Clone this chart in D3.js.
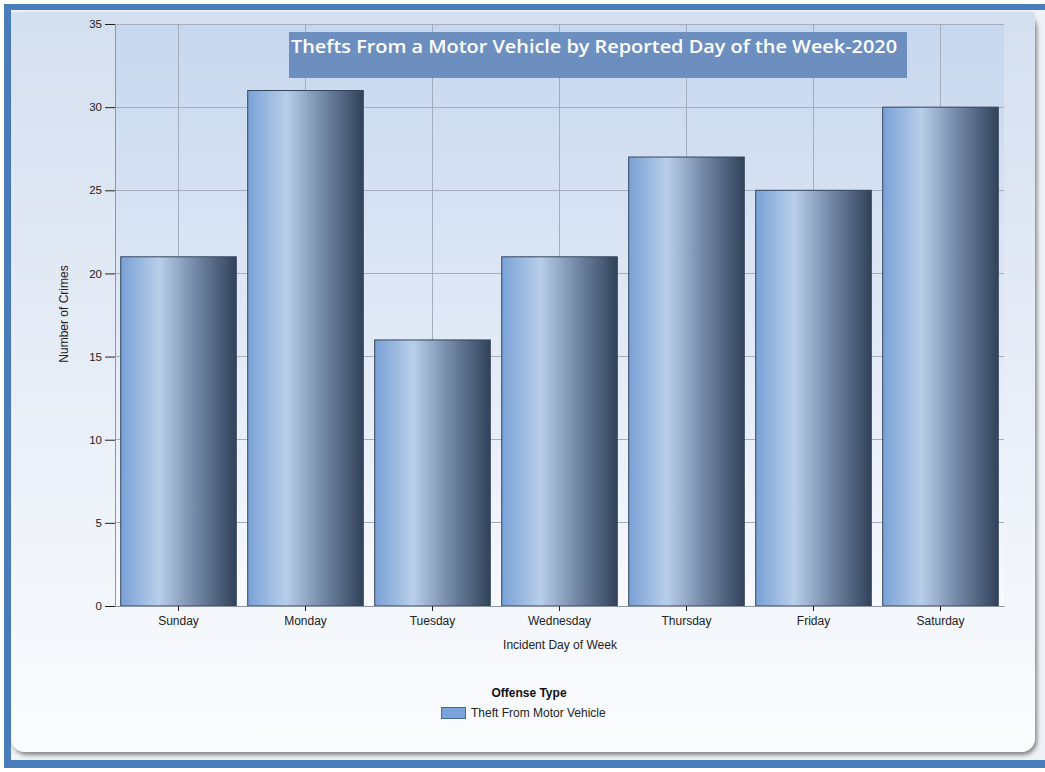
<!DOCTYPE html>
<html>
<head>
<meta charset="utf-8">
<script src="https://cdn.jsdelivr.net/npm/d3@7"></script>
<style>
  html, body { margin: 0; padding: 0; background: #fff; }
  svg { display: block; }
  text { font-family: "Liberation Sans", Arial, sans-serif; }
</style>
</head>
<body>
<svg id="chart" width="1045" height="772"></svg>
<script>
var days = ['Sunday', 'Monday', 'Tuesday', 'Wednesday', 'Thursday', 'Friday', 'Saturday'];
var crimes = [21, 31, 16, 21, 27, 25, 30];
var yTicks = [0, 5, 10, 15, 20, 25, 30, 35];
var seriesName = 'Theft From Motor Vehicle';

var svg = d3.select('#chart');
var defs = svg.append('defs');

var panelGrad = defs.append('linearGradient')
  .attr('id', 'panelGrad').attr('x1', 0).attr('y1', 0).attr('x2', 0).attr('y2', 1);
panelGrad.append('stop').attr('offset', '0%').attr('stop-color', '#d4dff0');
panelGrad.append('stop').attr('offset', '100%').attr('stop-color', '#fbfcfe');

var plotGrad = defs.append('linearGradient')
  .attr('id', 'plotGrad').attr('x1', 0).attr('y1', 0).attr('x2', 0).attr('y2', 1);
plotGrad.append('stop').attr('offset', '0%').attr('stop-color', '#c7d7ee');
plotGrad.append('stop').attr('offset', '100%').attr('stop-color', '#f7f9fd');

var barGrad = defs.append('linearGradient')
  .attr('id', 'barGrad').attr('x1', 0).attr('y1', 0).attr('x2', 1).attr('y2', 0);
barGrad.append('stop').attr('offset', '0%').attr('stop-color', '#79a1d6');
barGrad.append('stop').attr('offset', '33%').attr('stop-color', '#b8cee9');
barGrad.append('stop').attr('offset', '65%').attr('stop-color', '#7388a6');
barGrad.append('stop').attr('offset', '100%').attr('stop-color', '#31425a');

var shadow = defs.append('filter').attr('id', 'shadow')
  .attr('x', '-5%').attr('y', '-5%').attr('width', '110%').attr('height', '110%');
shadow.append('feGaussianBlur').attr('in', 'SourceAlpha').attr('stdDeviation', 2);
shadow.append('feOffset').attr('dx', 2).attr('dy', 3).attr('result', 'b');
shadow.append('feComponentTransfer').append('feFuncA').attr('type', 'linear').attr('slope', 0.45);
var merge = shadow.append('feMerge');
merge.append('feMergeNode');
merge.append('feMergeNode').attr('in', 'SourceGraphic');

// outer blue frame
svg.append('rect')
  .attr('x', 4).attr('y', 4).attr('width', 1060).attr('height', 764)
  .attr('fill', '#4a7dbc');
svg.append('rect')
  .attr('x', 11).attr('y', 10).attr('width', 1034).attr('height', 750)
  .attr('fill', '#eef1f5');

// inner panel
svg.append('rect')
  .attr('x', 11).attr('y', 12).attr('width', 1024).attr('height', 740)
  .attr('rx', 14).attr('ry', 14)
  .attr('fill', 'url(#panelGrad)')
  .attr('filter', 'url(#shadow)');
svg.append('rect')
  .attr('x', 11).attr('y', 12).attr('width', 1024).attr('height', 20)
  .attr('fill', '#d4dff0');

var margin = { left: 115, right: 1004, top: 24, bottom: 606 };

var x = d3.scaleBand()
  .domain(days)
  .range([margin.left, margin.right])
  .paddingInner(0.09)
  .paddingOuter(0.045);

var y = d3.scaleLinear()
  .domain([0, 35])
  .range([margin.bottom, margin.top]);

// plot area
svg.append('rect')
  .attr('x', margin.left).attr('y', margin.top)
  .attr('width', margin.right - margin.left)
  .attr('height', margin.bottom - margin.top)
  .attr('fill', 'url(#plotGrad)');

// grid
svg.append('g')
  .selectAll('line')
  .data(yTicks)
  .enter()
  .append('line')
  .attr('x1', margin.left).attr('x2', margin.right)
  .attr('y1', d => y(d)).attr('y2', d => y(d))
  .attr('stroke', '#a3adbd').attr('stroke-width', 1)
  .attr('shape-rendering', 'crispEdges');

svg.append('g')
  .selectAll('line')
  .data(days)
  .enter()
  .append('line')
  .attr('x1', d => x(d) + x.bandwidth() / 2).attr('x2', d => x(d) + x.bandwidth() / 2)
  .attr('y1', margin.top).attr('y2', margin.bottom)
  .attr('stroke', '#a3adbd').attr('stroke-width', 1)
  .attr('shape-rendering', 'crispEdges');

// title box
svg.append('rect')
  .attr('x', 289).attr('y', 32).attr('width', 618).attr('height', 46)
  .attr('fill', '#6d8fc0');
svg.append('text')
  .attr('x', 291).attr('y', 53)
  .attr('fill', '#ffffff')
  .style('font-family', '"Open Sans", sans-serif')
  .style('font-weight', '600')
  .style('font-size', '18.5px')
  .attr('textLength', 606)
  .attr('lengthAdjust', 'spacingAndGlyphs')
  .text('Thefts From a Motor Vehicle by Reported Day of the Week-2020');

// bars
svg.append('g')
  .selectAll('rect')
  .data(crimes)
  .enter()
  .append('rect')
  .attr('x', (d, i) => x(days[i]))
  .attr('y', d => y(d))
  .attr('width', x.bandwidth())
  .attr('height', d => y(0) - y(d))
  .attr('fill', 'url(#barGrad)')
  .attr('stroke', '#33445c')
  .attr('stroke-width', 1);

// axes
var yAxis = d3.axisLeft(y).tickValues(yTicks).tickSize(10).tickPadding(3);
var gy = svg.append('g')
  .attr('transform', 'translate(' + margin.left + ',0)')
  .call(yAxis);
gy.select('.domain').attr('stroke', '#8c96a4');
gy.selectAll('.tick line').attr('stroke', '#222');
gy.selectAll('.tick text')
  .attr('fill', '#222')
  .style('font-size', '11.5px')
  .style('font-family', '"Liberation Sans", Arial, sans-serif');

var xAxis = d3.axisBottom(x).tickSize(5).tickSizeOuter(0).tickPadding(5);
var gx = svg.append('g')
  .attr('transform', 'translate(0,' + margin.bottom + ')')
  .call(xAxis);
gx.select('.domain').attr('stroke', '#8c96a4');
gx.selectAll('.tick line').attr('stroke', '#222');
gx.selectAll('.tick text')
  .attr('fill', '#222')
  .style('font-size', '12px')
  .style('font-family', '"Liberation Sans", Arial, sans-serif');

// axis titles
svg.append('text')
  .attr('transform', 'translate(68,314) rotate(-90)')
  .attr('text-anchor', 'middle')
  .attr('fill', '#222')
  .style('font-size', '12px')
  .text('Number of Crimes');

svg.append('text')
  .attr('x', 560).attr('y', 649)
  .attr('text-anchor', 'middle')
  .attr('fill', '#222')
  .style('font-size', '12px')
  .text('Incident Day of Week');

// legend
svg.append('text')
  .attr('x', 529).attr('y', 697)
  .attr('text-anchor', 'middle')
  .attr('fill', '#111')
  .style('font-size', '12px')
  .style('font-weight', 'bold')
  .text('Offense Type');

svg.append('rect')
  .attr('x', 441.5).attr('y', 707.5).attr('width', 24).attr('height', 11)
  .attr('fill', '#7aa3da')
  .attr('stroke', '#4a6a94');

svg.append('text')
  .attr('x', 471).attr('y', 717)
  .attr('fill', '#222')
  .style('font-size', '12px')
  .text(seriesName);
</script>
</body>
</html>
